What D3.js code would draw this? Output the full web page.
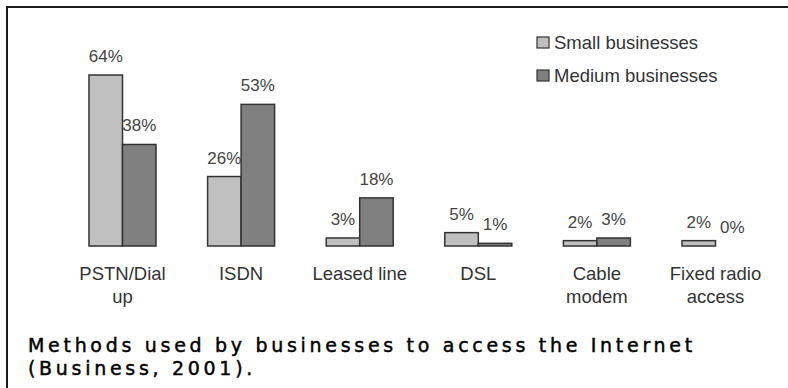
<!DOCTYPE html>
<html>
<head>
<meta charset="utf-8">
<script src="https://cdn.jsdelivr.net/npm/d3@7"></script>
<style>
  body { margin: 0; background: #fff; }
  svg { display: block; }
</style>
</head>
<body>
<script>
const width = 788;
const height = 388;

// data
const categories = ["PSTN/Dial up", "ISDN", "Leased line", "DSL", "Cable modem", "Fixed radio access"];
const categoryLines = [["PSTN/Dial", "up"], ["ISDN"], ["Leased line"], ["DSL"], ["Cable", "modem"], ["Fixed radio", "access"]];
const seriesNames = ["Small businesses", "Medium businesses"];
const smallValues = [64, 26, 3, 5, 2, 2];
const mediumValues = [38, 53, 18, 1, 3, 0];
const captionLines = ["Methods used by businesses to access the Internet", "(Business, 2001)."];

const colors = { "Small businesses": "#c0c0c0", "Medium businesses": "#808080" };

const svg = d3.select("body").append("svg")
    .attr("width", width)
    .attr("height", height);

// open frame, cropped at right and bottom
svg.append("path")
    .attr("d", `M7,${height} V7 H${width}`)
    .style("fill", "none")
    .style("stroke", "#1a1a1a")
    .style("stroke-width", 2);

const baseY = 246;

const x0 = d3.scaleBand()
    .domain(categories)
    .range([63.2, 774.8])
    .paddingInner(0.435)
    .paddingOuter(0.2175);

const x1 = d3.scaleBand()
    .domain(seriesNames)
    .range([0, x0.bandwidth()]);

const y = d3.scaleLinear()
    .domain([0, 64])
    .range([baseY, 75]);

const rows = categories.map((c, i) => ({
    cat: c,
    values: [
        { series: seriesNames[0], value: smallValues[i] },
        { series: seriesNames[1], value: mediumValues[i] }
    ]
}));

const groups = svg.selectAll(".group")
    .data(rows)
    .enter().append("g")
    .attr("class", "group")
    .attr("transform", d => `translate(${x0(d.cat)},0)`);

groups.selectAll("rect")
    .data(d => d.values.filter(v => v.value > 0))
    .enter().append("rect")
    .attr("x", d => x1(d.series))
    .attr("y", d => y(d.value))
    .attr("width", x1.bandwidth())
    .attr("height", d => baseY - y(d.value))
    .style("fill", d => colors[d.series])
    .style("stroke", "#333")
    .style("stroke-width", 1.5);

groups.selectAll(".val")
    .data(d => d.values)
    .enter().append("text")
    .attr("class", "val")
    .attr("x", d => x1(d.series) + x1.bandwidth() / 2)
    .attr("y", d => y(d.value) - 13)
    .attr("text-anchor", "middle")
    .style("font-family", "'Liberation Sans', Arial, sans-serif")
    .style("font-size", "17px")
    .style("fill", "#444")
    .text(d => d.value + "%");

// category labels
svg.selectAll(".cat")
    .data(categories)
    .enter().append("text")
    .attr("class", "cat")
    .attr("x", d => x0(d) + x0.bandwidth() / 2)
    .attr("y", 280)
    .attr("text-anchor", "middle")
    .style("font-family", "'Liberation Sans', Arial, sans-serif")
    .style("font-size", "18.5px")
    .style("fill", "#333")
    .each(function(d, i) {
        const t = d3.select(this);
        categoryLines[i].forEach((line, j) => {
            t.append("tspan")
                .attr("x", x0(d) + x0.bandwidth() / 2)
                .attr("dy", j === 0 ? 0 : 23)
                .text(line);
        });
    });

// legend
const legend = svg.selectAll(".legend")
    .data(seriesNames)
    .enter().append("g")
    .attr("class", "legend")
    .attr("transform", (d, i) => `translate(537,${37 + i * 33})`);

legend.append("rect")
    .attr("width", 12)
    .attr("height", 11)
    .style("fill", d => colors[d])
    .style("stroke", "#333")
    .style("stroke-width", 1.2);

legend.append("text")
    .attr("x", 17)
    .attr("y", 11.5)
    .style("font-family", "'Liberation Sans', Arial, sans-serif")
    .style("font-size", "18.5px")
    .style("fill", "#333")
    .text(d => d);

// caption
svg.selectAll(".caption")
    .data(captionLines)
    .enter().append("text")
    .attr("class", "caption")
    .attr("x", 28)
    .attr("y", (d, i) => 352 + i * 22.5)
    .style("font-family", "'DejaVu Sans', Verdana, sans-serif")
    .style("font-size", "19px")
    .style("letter-spacing", "3.7px")
    .style("fill", "#000")
    .style("stroke", "#000")
    .style("stroke-width", 0.45)
    .text(d => d);
</script>
</body>
</html>
